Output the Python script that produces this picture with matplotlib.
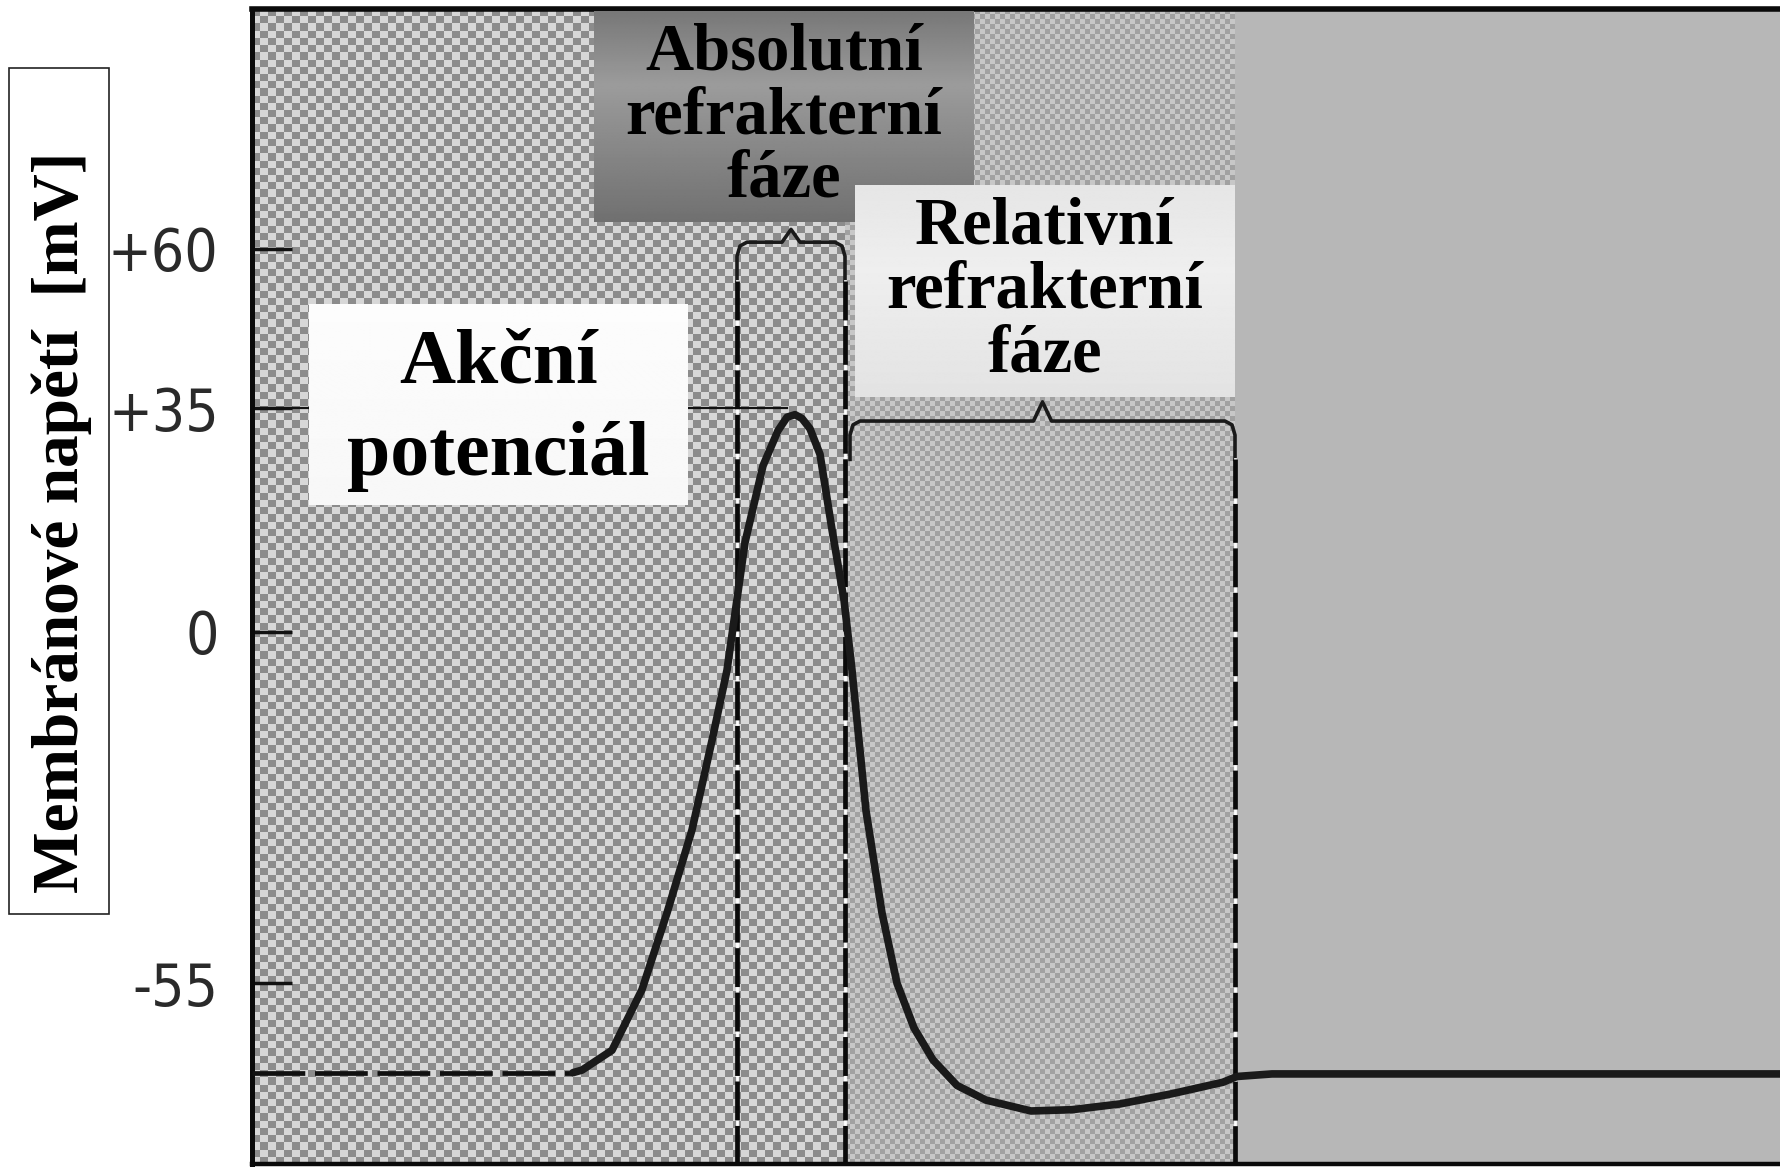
import numpy as np
import matplotlib
matplotlib.use('Agg')
import matplotlib.pyplot as plt
from matplotlib.patches import Rectangle

# y axis ticks (mV)
tick_vals = [60, 35, 0, -55]
tick_labels = ['+60', '+35', '0', '-55']

# resting potential (dashed part before the spike)
rest_mv = -69
rest_t = [0.0, 3.21]

# action potential trace, time in ms
ap_t = [3.21, 3.3, 3.6, 3.9, 4.15, 4.4, 4.6, 4.75, 4.93, 5.11, 5.26, 5.35, 5.43,
        5.5, 5.58, 5.68, 5.8, 5.92, 6.0, 6.14, 6.3, 6.45, 6.62, 6.81, 7.05, 7.34,
        7.79, 8.2, 8.68, 9.2, 9.71, 9.85, 10.2, 15.3]
ap_mv = [-69, -68.6, -65.5, -56, -44, -31, -17, -6, 14, 26, 31.5, 33.6, 34,
         33.4, 31.8, 27.8, 16, 5, -6, -28, -44, -55, -62, -67, -71, -73.3,
         -75, -74.8, -73.9, -72.3, -70.5, -69.6, -69.2, -69.2]

# refractory phases (start, end) in ms and bracket heights in mV
abs_phase = (4.85, 5.93)
rel_phase = (5.93, 9.83)
abs_top, abs_tip = 61, 63
rel_top, rel_tip = 33, 36
peak_mv = 35
peak_t = 5.35

ylo, yhi = -83.3, 97.5
xlo, xhi = 0, 15.3

W, H = 1780, 1168
plt.rcParams['lines.scale_dashes'] = False
serif = ['Liberation Serif', 'DejaVu Serif']

fig = plt.figure(figsize=(W / 100, H / 100), dpi=100)
ax = fig.add_axes([252 / W, 4 / H, 1530 / W, 1155 / H])
ax.set_facecolor('#b7b7b7')

# halftone-like background of the scanned figure
chk = np.indices((160, 74)).sum(0) % 2
ax.imshow(np.where(chk, 0.84, 0.55), extent=(xlo, abs_phase[1], ylo, yhi),
          cmap='gray', vmin=0, vmax=1, interpolation='nearest', aspect='auto', zorder=0)
chk2 = np.indices((230, 78)).sum(0) % 2
ax.imshow(np.where(chk2, 0.78, 0.63), extent=(rel_phase[0], rel_phase[1], ylo, yhi),
          cmap='gray', vmin=0, vmax=1, interpolation='nearest', aspect='auto', zorder=0)

# +35 guide line
ax.plot([xlo, peak_t], [peak_mv, peak_mv], color='#111111', lw=1.6, zorder=2)

# dashed resting line and AP trace
ax.plot(rest_t, [rest_mv, rest_mv], color='#111111', lw=3.4,
        dashes=(38, 7), zorder=3)
ax.plot(ap_t, ap_mv, color='#1a1a1a', lw=5.5, solid_capstyle='round',
        solid_joinstyle='round', zorder=4)


def brace(t0, t1, top, tip):
    mid = (t0 + t1) / 2
    xs = [t0, t0, t0 + 0.03, t0 + 0.1, mid - 0.09, mid, mid + 0.09,
          t1 - 0.1, t1 - 0.03, t1, t1]
    ys = [top - 6, top - 2.2, top - 0.6, top, top, tip, top,
          top, top - 0.6, top - 2.2, top - 6]
    ax.plot(xs, ys, color='#1a1a1a', lw=2.6, solid_joinstyle='round', zorder=3)


brace(abs_phase[0], abs_phase[1], abs_top, abs_tip)
brace(rel_phase[0] + 0.05, rel_phase[1], rel_top, rel_tip)

# dashed phase boundaries
for t, top in [(abs_phase[0], abs_top - 6), (abs_phase[1], abs_top - 6),
               (rel_phase[1], rel_top - 6)]:
    ax.plot([t, t], [top, ylo], color='white', lw=2.0, zorder=3)
    ax.plot([t, t], [top, ylo], color='#0a0a0a', lw=3.4, dashes=(28, 4), zorder=3)

ax.set_xlim(xlo, xhi)
ax.set_ylim(ylo, yhi)
ax.set_xticks([])
ax.set_yticks(tick_vals, tick_labels)
ax.tick_params(axis='y', direction='in', length=29, width=2.5, pad=24,
               labelsize=42, labelcolor='#2a2a2a', color='#111111')
for lbl in ax.get_yticklabels():
    lbl.set_family(['DejaVu Sans'])
    lbl.set_fontstretch('condensed')
    lbl.set_fontweight('light')
ax.spines['right'].set_visible(False)
ax.spines['left'].set_linewidth(3.6)
ax.spines['top'].set_linewidth(4.0)
ax.spines['bottom'].set_linewidth(3.2)
for s in ax.spines.values():
    s.set_color('#0a0a0a')


def label_box(x0, y0, x1, y1, text, stops, size, spacing, dy=0.0):
    bx = fig.add_axes([x0 / W, 1 - y1 / H, (x1 - x0) / W, (y1 - y0) / H])
    pos, vals = stops
    grad = np.interp(np.linspace(0, 1, 200), pos, vals)[:, None]
    bx.imshow(grad, cmap='gray', vmin=0, vmax=1, aspect='auto',
              extent=(0, 1, 0, 1), interpolation='bilinear')
    bx.set_axis_off()
    bx.text(0.5, 0.5 + dy, text, ha='center', va='center', fontsize=size,
            fontweight='bold', family=serif, linespacing=spacing,
            multialignment='center', color='black')


label_box(309, 304, 688, 505, 'Akční\npotenciál',
          ([0, 1], [0.99, 0.97]), 56, 1.4, dy=-0.03)
label_box(594, 11, 974, 222, 'Absolutní\nrefrakterní\nfáze',
          ([0, 0.35, 1], [0.47, 0.61, 0.44]), 48, 1.06)
label_box(855, 185, 1235, 397, 'Relativní\nrefrakterní\nfáze',
          ([0, 0.4, 1], [0.90, 0.935, 0.89]), 48, 1.06)

# y axis title in its own framed box
fig.patches.append(Rectangle((9 / W, 1 - 914 / H), 100 / W, 846 / H,
                             transform=fig.transFigure, facecolor='white',
                             edgecolor='#222222', lw=1.2))
fig.text(62 / W, 1 - 522 / H, 'Membránové napětí  [mV]', rotation=90,
         ha='center', va='center', fontsize=47, fontweight='bold', family=serif)

fig.savefig('out.png', dpi=100)
